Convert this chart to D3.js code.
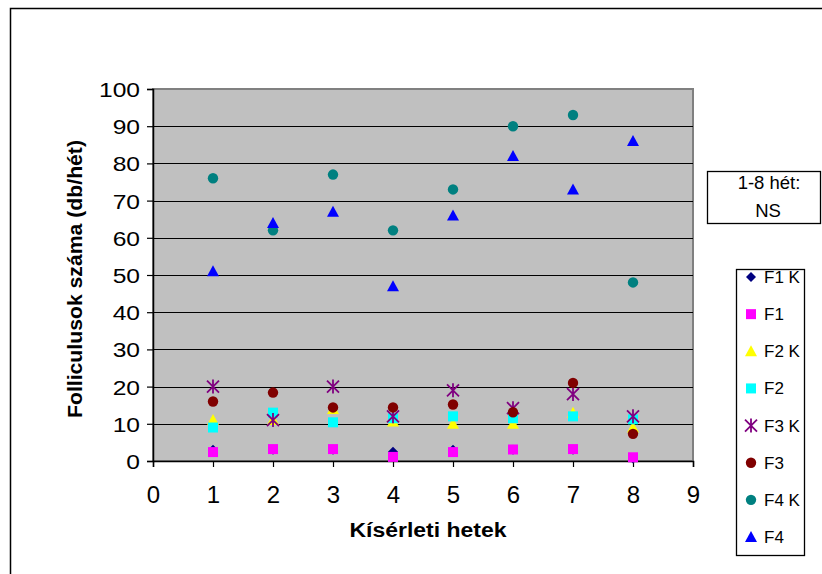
<!DOCTYPE html>
<html>
<head>
<meta charset="utf-8">
<script src="https://cdn.jsdelivr.net/npm/d3@7"></script>
<style>
  html, body { margin: 0; padding: 0; background: #fff; }
  svg { display: block; font-family: "Liberation Sans", Arial, sans-serif; }
</style>
</head>
<body>
<svg id="chart" width="822" height="574"></svg>
<script>
// Weeks of the experiment
const weeks = [1, 2, 3, 4, 5, 6, 7, 8];

// Follicle counts per week for each group
const f1k = [3, 3, 3, 2.5, 3, 3, 3, 0.7];
const f1  = [2.4, 3.2, 3.2, 1.1, 2.4, 3.1, 3.2, 1];
const f2k = [11, 11, 14, 10.6, 10, 10, 13, 9];
const f2  = [9, 13, 10.4, 11.5, 12, 11.5, 12, 11.2];
const f3k = [20, 11, 20, 12, 19, 14.2, 18, 12];
const f3  = [16, 18.4, 14.4, 14.4, 15.2, 13.1, 21, 7.3];
const f4k = [76, 62, 77, 62, 73, 90, 93, 48];
const f4  = [51, 64, 67, 47, 66, 82, 73, 86];

const seriesNames = ["F1 K", "F1", "F2 K", "F2", "F3 K", "F3", "F4 K", "F4"];
const seriesValues = [f1k, f1, f2k, f2, f3k, f3, f4k, f4];
const seriesColors = ["#000080", "#FF00FF", "#FFFF00", "#00FFFF", "#800080", "#800000", "#008080", "#0000FF"];
const seriesShapes = ["diamond", "square", "triangle", "square", "star", "circle", "circle", "triangle"];

const xTicks = [0, 1, 2, 3, 4, 5, 6, 7, 8, 9];
const yTicks = [0, 10, 20, 30, 40, 50, 60, 70, 80, 90, 100];

const svg = d3.select("#chart");

// Outer chart frame (runs past the right and bottom edges)
svg.append("rect")
  .attr("x", 10.5).attr("y", 8.5)
  .attr("width", 830).attr("height", 600)
  .attr("fill", "#fff").attr("stroke", "#000").attr("stroke-width", 1.5);

const plot = { left: 153, right: 693, top: 89, bottom: 461 };

const x = d3.scaleLinear().domain([0, 9]).range([plot.left, plot.right]);
const y = d3.scaleLinear().domain([0, 100]).range([plot.bottom, plot.top]);

// Plot background
svg.append("rect")
  .attr("x", plot.left).attr("y", plot.top)
  .attr("width", plot.right - plot.left).attr("height", plot.bottom - plot.top)
  .attr("fill", "#C0C0C0").attr("stroke", "#808080").attr("stroke-width", 2);

// Horizontal gridlines
svg.append("g")
  .selectAll("line")
  .data(yTicks.filter(d => d > 0 && d < 100))
  .join("line")
  .attr("x1", plot.left).attr("x2", plot.right)
  .attr("y1", d => Math.round(y(d)) + 0.5).attr("y2", d => Math.round(y(d)) + 0.5)
  .attr("stroke", "#000").attr("stroke-width", 1.2);

// Axes
const yStretch = 1.2;
const yAxis = svg.append("g")
  .attr("transform", `translate(${plot.left},0)`)
  .call(d3.axisLeft(y).tickValues(yTicks).tickSize(6).tickPadding(8));
const xAxis = svg.append("g")
  .attr("transform", `translate(0,${plot.bottom})`)
  .call(d3.axisBottom(x).tickValues(xTicks).tickSize(6).tickPadding(12));

[yAxis, xAxis].forEach(g => {
  g.select(".domain").attr("stroke", "#000").attr("stroke-width", 1.5);
  g.selectAll(".tick line").attr("stroke", "#000").attr("stroke-width", 1.2);
  g.selectAll(".tick text")
    .attr("fill", "#000")
    .attr("font-family", "Liberation Sans, Arial, sans-serif");
});

// Left labels: slightly wide digits
yAxis.selectAll(".tick text")
  .attr("font-size", 20.5)
  .attr("dy", null)
  .attr("x", -13 / yStretch)
  .attr("y", 7.5)
  .attr("transform", `scale(${yStretch},1)`);

xAxis.selectAll(".tick text")
  .attr("font-size", 24)
  .attr("dy", null)
  .attr("y", 42);

// Axis titles
svg.append("text")
  .attr("transform", `translate(82,${(plot.top + plot.bottom) / 2 + 4}) rotate(-90)`)
  .attr("text-anchor", "middle")
  .attr("font-size", 20).attr("font-weight", "bold")
  .attr("textLength", 278).attr("lengthAdjust", "spacingAndGlyphs")
  .text("Folliculusok száma (db/hét)");

svg.append("text")
  .attr("x", 428).attr("y", 537)
  .attr("text-anchor", "middle")
  .attr("font-size", 19.5).attr("font-weight", "bold")
  .attr("textLength", 157).attr("lengthAdjust", "spacingAndGlyphs")
  .text("Kísérleti hetek");

// Marker shapes
function markerPath(shape) {
  switch (shape) {
    case "diamond": return "M0,-5L5,0L0,5L-5,0Z";
    case "square": return "M-5,-5H5V5H-5Z";
    case "triangle": return "M0,-6L6,5H-6Z";
    case "star": return "M-6,-6L6,6M-6,6L6,-6M0,-7V7";
    case "circle": return d3.arc()({ innerRadius: 0, outerRadius: 5.2, startAngle: 0, endAngle: 2 * Math.PI });
  }
}

function drawMarker(g, shape, color) {
  const p = g.append("path").attr("d", markerPath(shape));
  if (shape === "star") {
    p.attr("fill", "none").attr("stroke", color).attr("stroke-width", 1.8);
  } else {
    p.attr("fill", color);
  }
}

// Data points
seriesValues.forEach((vals, i) => {
  const g = svg.append("g");
  vals.forEach((v, j) => {
    const m = g.append("g").attr("transform", `translate(${x(weeks[j])},${y(v)})`);
    drawMarker(m, seriesShapes[i], seriesColors[i]);
  });
});

// Significance note box
svg.append("rect")
  .attr("x", 707.5).attr("y", 171.5).attr("width", 113).attr("height", 52)
  .attr("fill", "#fff").attr("stroke", "#000").attr("stroke-width", 1.3);
svg.append("text").attr("x", 769).attr("y", 189).attr("text-anchor", "middle")
  .attr("font-size", 18.5).text("1-8 hét:");
svg.append("text").attr("x", 768).attr("y", 217).attr("text-anchor", "middle")
  .attr("font-size", 18.5).text("NS");

// Legend
svg.append("rect")
  .attr("x", 736.5).attr("y", 269.5).attr("width", 68).attr("height", 286)
  .attr("fill", "#fff").attr("stroke", "#000").attr("stroke-width", 1.3);

const legendY = d3.scalePoint().domain(seriesNames).range([277, 537]);
seriesNames.forEach((name, i) => {
  const g = svg.append("g").attr("transform", `translate(751,${legendY(name)})`);
  drawMarker(g, seriesShapes[i], seriesColors[i]);
  svg.append("text")
    .attr("x", 764).attr("y", legendY(name) + 6)
    .attr("font-size", 17).text(name);
});
</script>
</body>
</html>
